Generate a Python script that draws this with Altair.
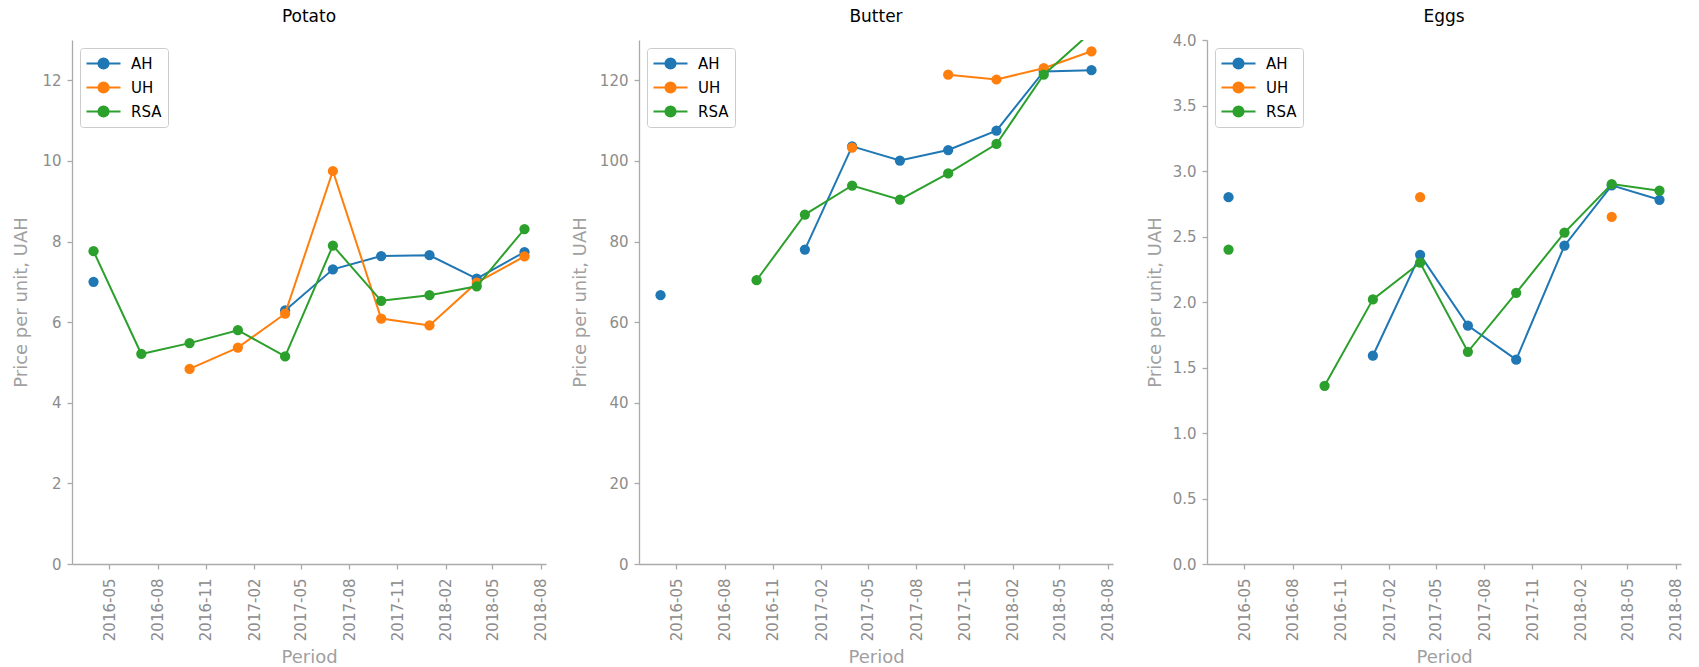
import altair as alt
import pandas as pd

dates = ["2016-04-01", "2016-07-01", "2016-10-01", "2017-01-01", "2017-04-01",
         "2017-07-01", "2017-10-01", "2018-01-01", "2018-04-01", "2018-07-01"]
series_names = ["AH", "UH", "RSA"]
colors = ["#1f77b4", "#ff7f0e", "#2ca02c"]

potato_ah = [7.00, None, None, None, 6.29, 7.31, 7.64, 7.66, 7.08, 7.74]
potato_uh = [None, None, 4.84, 5.37, 6.21, 9.75, 6.09, 5.92, 6.98, 7.63]
potato_rsa = [7.76, 5.21, 5.48, 5.80, 5.15, 7.90, 6.53, 6.67, 6.89, 8.31]

butter_ah = [66.7, None, None, 78.0, 103.6, 100.1, 102.7, 107.5, 122.2, 122.5]
butter_uh = [None, None, None, None, 103.3, None, 121.4, 120.2, 123.0, 127.2]
butter_rsa = [None, None, 70.4, 86.7, 93.9, 90.4, 96.9, 104.2, 121.4, 132.0]

eggs_ah = [2.80, None, None, 1.59, 2.36, 1.82, 1.56, 2.43, 2.89, 2.78]
eggs_uh = [None, None, None, None, 2.80, None, None, None, 2.65, None]
eggs_rsa = [2.40, None, 1.36, 2.02, 2.30, 1.62, 2.07, 2.53, 2.90, 2.85]

tick_months = [(2016, 5), (2016, 8), (2016, 11), (2017, 2), (2017, 5), (2017, 8),
               (2017, 11), (2018, 2), (2018, 5), (2018, 8)]

potato_ticks = [0, 2, 4, 6, 8, 10, 12]
butter_ticks = [0, 20, 40, 60, 80, 100, 120]
eggs_ticks = [0.0, 0.5, 1.0, 1.5, 2.0, 2.5, 3.0, 3.5, 4.0]

FONT = "DejaVu Sans"


def make_df(vals_by_series):
    rows = []
    for name, vals in zip(series_names, vals_by_series):
        seg = 0
        for d, v in zip(dates, vals):
            if v is None:
                seg += 1
                continue
            rows.append({"date": d, "series": name, "value": v, "seg": f"{name}{seg}"})
    return pd.DataFrame(rows)


sym_path = ("M-2,0H2M-0.6,0A0.6,0.6,0,1,1,0.6,0A0.6,0.6,0,1,1,-0.6,0Z")


def panel(title, df, ydomain, yticks, yfmt, width, title_pad, title_offset):
    x = alt.X(
        "date:T", title="Period",
        scale=alt.Scale(type="utc",
                        domain=[alt.DateTime(year=2016, month=2, date=20, utc=True),
                                alt.DateTime(year=2018, month=8, date=11, utc=True)]),
        axis=alt.Axis(values=[alt.DateTime(year=y, month=m, date=1, utc=True) for y, m in tick_months],
                      labelExpr="utcFormat(datum.value, '%Y-%m')", labelAngle=270, labelPadding=9,
                      titlePadding=8),
    )
    y = alt.Y(
        "value:Q", title="Price per unit, UAH",
        scale=alt.Scale(domain=ydomain, nice=False, zero=False),
        axis=alt.Axis(values=yticks, format=yfmt, labelPadding=6, titlePadding=title_pad),
    )
    color = alt.Color(
        "series:N", sort=series_names,
        scale=alt.Scale(domain=series_names, range=colors),
        legend=alt.Legend(title=None, orient="none", legendX=8, legendY=8,
                          fillColor="white", strokeColor="#cccccc", cornerRadius=3,
                          padding=6, labelFontSize=15, labelColor="black", labelFont=FONT,
                          symbolType=sym_path, symbolSize=289, symbolStrokeWidth=2,
                          symbolOffset=8, labelOffset=18, rowPadding=5),
    )
    layers = []
    for s in series_names:
        base = alt.Chart(df).transform_filter(alt.datum.series == s)
        layers.append(base.mark_line(strokeWidth=2, clip=True).encode(
            x=x, y=y, color=color, detail="seg:N"))
        layers.append(base.mark_circle(size=105, opacity=1, clip=True).encode(
            x=x, y=y, color=color))
    return alt.layer(*layers).properties(
        width=width, height=524,
        title=alt.TitleParams(title, fontSize=17, font=FONT, fontWeight="normal",
                              color="black", offset=title_offset),
    )


p1 = panel("Potato", make_df([potato_ah, potato_uh, potato_rsa]), [0, 13], potato_ticks, "d", 474, 11, 14)
p2 = panel("Butter", make_df([butter_ah, butter_uh, butter_rsa]), [0, 130], butter_ticks, "d", 474, 10, 14)
p3 = panel("Eggs", make_df([eggs_ah, eggs_uh, eggs_rsa]), [0, 4], eggs_ticks, ".1f", 474, 8, 7)

inner = alt.hconcat(p1, p2, spacing=22).resolve_legend(color="independent")
chart = alt.hconcat(inner, p3, spacing=30).resolve_legend(color="independent").properties(
    padding={"left": 4, "top": 0, "right": 5, "bottom": 0}
).configure_view(stroke=None).configure_axis(
    grid=False, domainColor="#aaaaaa", tickColor="#aaaaaa", tickSize=5,
    labelColor="#8c8c8c", labelFontSize=15, labelFont=FONT,
    titleColor="#a0a0a0", titleFontSize=18, titleFont=FONT, titleFontWeight="normal",
    domainWidth=1.3, tickWidth=1.3,
)

chart.save("out.html", embed_options={"renderer": "svg", "actions": False})
